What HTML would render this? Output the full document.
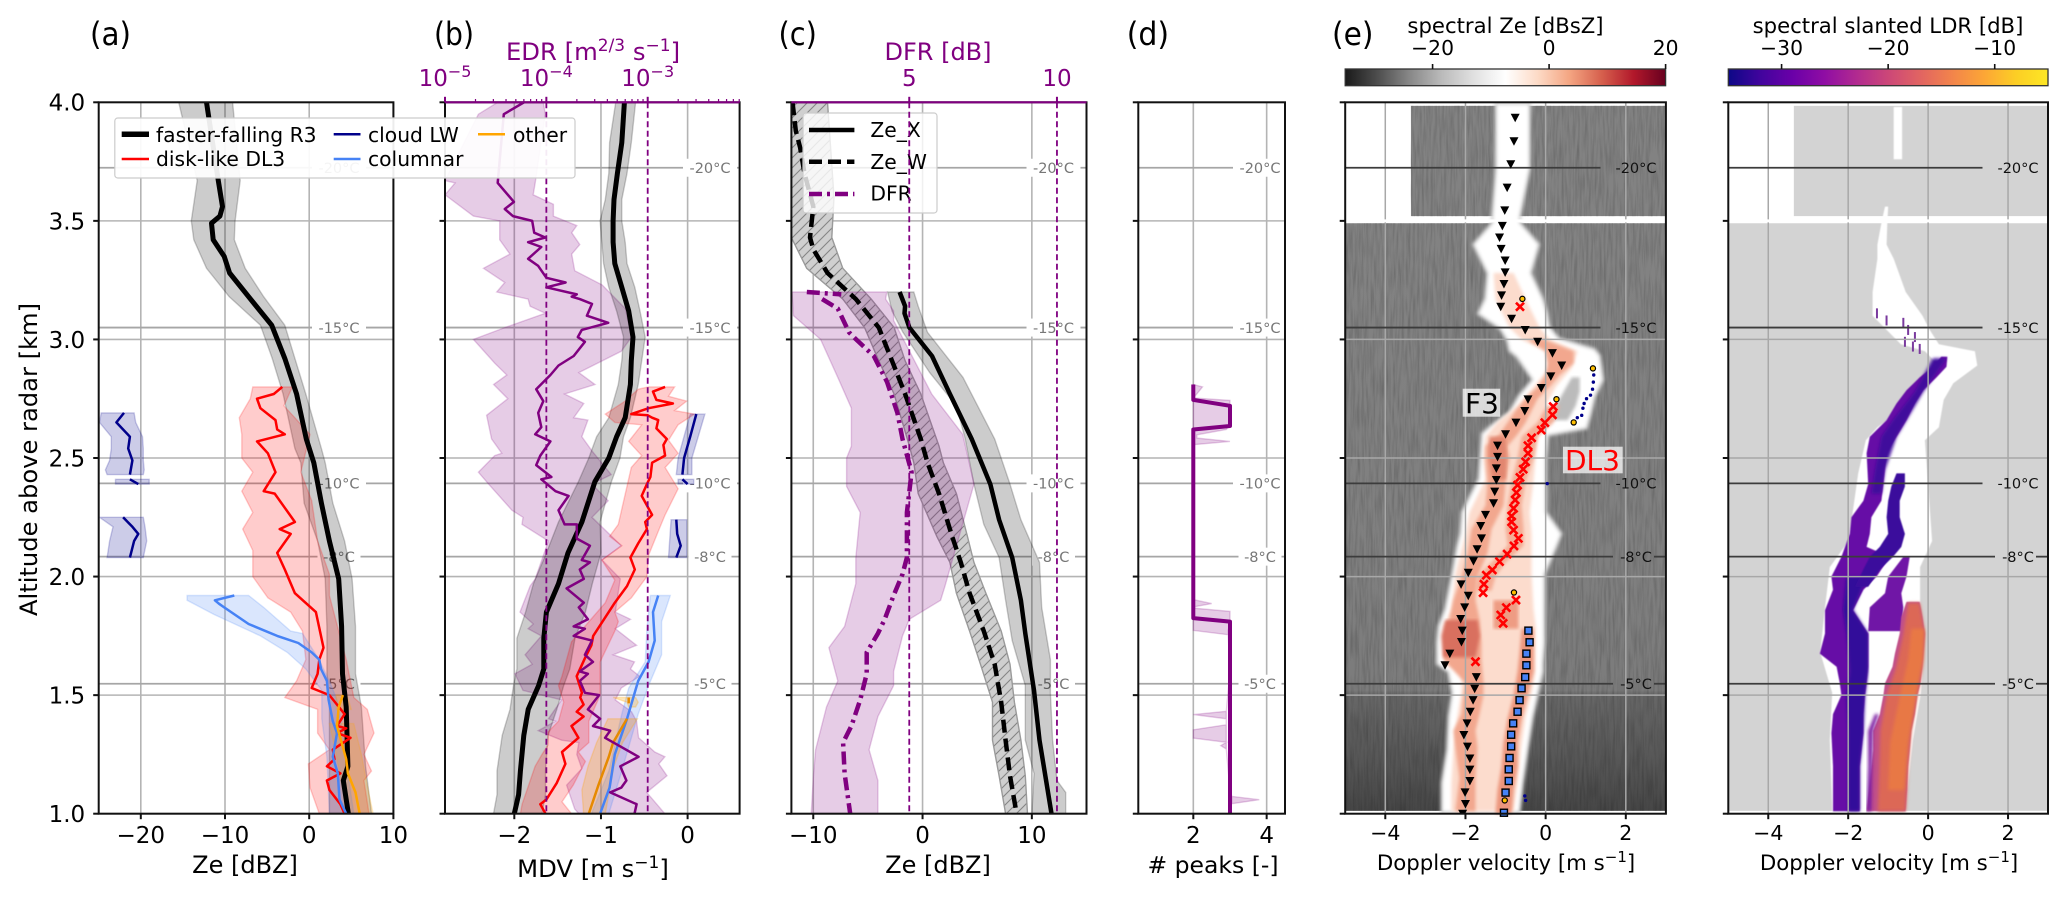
<!DOCTYPE html>
<html lang="en">
<head>
<meta charset="utf-8">
<title>Radar profiles and Doppler spectra</title>
<style>
html,body{margin:0;padding:0;background:#fff}
svg{display:block}
text{font-family:"DejaVu Sans","Liberation Sans",sans-serif}
</style>
</head>
<body>
<svg id="chart" xmlns="http://www.w3.org/2000/svg" width="2067" height="899" viewBox="0 0 2067 899">
<defs>
<clipPath id="clip-a"><rect x="98.7" y="102.3" width="294.7" height="711.4"/></clipPath>
<clipPath id="clip-b"><rect x="445" y="102.3" width="294.6" height="711.4"/></clipPath>
<clipPath id="clip-c"><rect x="791.4" y="102.3" width="295.1" height="711.4"/></clipPath>
<clipPath id="clip-d"><rect x="1138.3" y="102.3" width="146.7" height="711.4"/></clipPath>
<clipPath id="clip-e"><rect x="1345.2" y="102.3" width="320.7" height="711.4"/></clipPath>
<clipPath id="clip-f"><rect x="1728.3" y="102.3" width="319.7" height="711.4"/></clipPath>
<pattern id="hatch" width="10" height="10" patternUnits="userSpaceOnUse">
<rect width="10" height="10" fill="#cfcfcf"/>
<path d="M0,10 L10,0 M-2,2 L2,-2 M8,12 L12,8" stroke="#858585" stroke-width="1.1"/>
</pattern>
<linearGradient id="cmap-rdgy" x1="0" x2="1" y1="0" y2="0">
<stop offset="0" stop-color="#1a1a1a"/><stop offset=".1" stop-color="#4d4d4d"/><stop offset=".2" stop-color="#878787"/><stop offset=".3" stop-color="#bababa"/><stop offset=".4" stop-color="#e0e0e0"/><stop offset=".5" stop-color="#ffffff"/><stop offset=".6" stop-color="#fddbc7"/><stop offset=".7" stop-color="#f4a582"/><stop offset=".8" stop-color="#d6604d"/><stop offset=".9" stop-color="#b2182b"/><stop offset="1" stop-color="#67001f"/>
</linearGradient>
<linearGradient id="cmap-plasma" x1="0" x2="1" y1="0" y2="0">
<stop offset="0" stop-color="#0d0887"/><stop offset=".1" stop-color="#41049d"/><stop offset=".2" stop-color="#6a00a8"/><stop offset=".3" stop-color="#8f0da4"/><stop offset=".4" stop-color="#b12a90"/><stop offset=".5" stop-color="#cc4778"/><stop offset=".6" stop-color="#e16462"/><stop offset=".7" stop-color="#f2844b"/><stop offset=".8" stop-color="#fca636"/><stop offset=".9" stop-color="#fcce25"/><stop offset="1" stop-color="#fde725"/>
</linearGradient>
<filter id="grain" x="0" y="0" width="1" height="1">
<feTurbulence type="fractalNoise" baseFrequency="0.45 0.035" numOctaves="2" seed="4"/>
<feColorMatrix type="matrix" values="0 0 0 0 0  0 0 0 0 0  0 0 0 0 0  1.6 0 0 0 -0.6"/>
</filter>
<filter id="soft" x="-5%" y="-5%" width="110%" height="110%"><feGaussianBlur stdDeviation="1.6"/></filter>
<filter id="softer" x="-5%" y="-5%" width="110%" height="110%"><feGaussianBlur stdDeviation="0.5"/></filter>
</defs>
<rect x="0" y="0" width="2067" height="899" fill="#fff"/>

<g id="panel-a-marks"></g>
<g id="panel-b-marks"></g>
<g id="panel-c-marks"></g>

<g>
<rect x="803" y="113" width="134" height="100" rx="3" fill="#fff" fill-opacity=".8" stroke="#ccc" stroke-width="1.2"/>
<line x1="809" x2="854.4" y1="130" y2="130" stroke="#000" stroke-width="4.5"/>
<text x="870.4" y="137" font-size="20.3" fill="#000">Ze_X</text>
<line x1="809" x2="854.4" y1="161.7" y2="161.7" stroke="#000" stroke-width="4.5" stroke-dasharray="13 6"/>
<text x="870.4" y="169" font-size="20.3" fill="#000">Ze_W</text>
<line x1="809" x2="854.4" y1="194" y2="194" stroke="#800080" stroke-width="4.5" stroke-dasharray="13 5 3 5"/>
<text x="870.4" y="200.7" font-size="20.3" fill="#000">DFR</text>
</g>
<g id="panel-c-top"></g>
<g id="panel-d-marks"></g>
<g id="panel-e-marks"></g>
<g id="panel-f-marks"></g>

<g>
<rect x="114.8" y="118" width="460.2" height="60" rx="3" fill="#fff" fill-opacity=".92" stroke="#ccc" stroke-width="1.2"/>
<line x1="121.7" x2="149" y1="134.3" y2="134.3" stroke="#000" stroke-width="5.5"/>
<text x="156" y="142" font-size="20.3" fill="#000">faster-falling R3</text>
<line x1="121.7" x2="149" y1="159" y2="159" stroke="#ff0000" stroke-width="2.5"/>
<text x="156" y="166" font-size="20.3" fill="#000">disk-like DL3</text>
<line x1="333.7" x2="360.5" y1="134.3" y2="134.3" stroke="#00008b" stroke-width="2.5"/>
<text x="368" y="142" font-size="20.3" fill="#000">cloud LW</text>
<line x1="333.7" x2="360.5" y1="159" y2="159" stroke="#4682f5" stroke-width="2.5"/>
<text x="368" y="166" font-size="20.3" fill="#000">columnar</text>
<line x1="478" x2="505" y1="134.3" y2="134.3" stroke="#ffa500" stroke-width="2.5"/>
<text x="513" y="142" font-size="20.3" fill="#000">other</text>
</g>

<text x="90" y="45" font-size="32" textLength="41" lengthAdjust="spacingAndGlyphs" fill="#000">(a)</text>
<text x="434" y="45" font-size="32" textLength="40" lengthAdjust="spacingAndGlyphs" fill="#000">(b)</text>
<text x="778.5" y="45" font-size="32" textLength="38.4" lengthAdjust="spacingAndGlyphs" fill="#000">(c)</text>
<text x="1126.7" y="45" font-size="32" textLength="42.4" lengthAdjust="spacingAndGlyphs" fill="#000">(d)</text>
<text x="1332" y="45" font-size="32" textLength="41.4" lengthAdjust="spacingAndGlyphs" fill="#000">(e)</text>

<text transform="translate(37,459.5) rotate(-90)" text-anchor="middle" font-size="24.2" fill="#000">Altitude above radar [km]</text>
<text x="245" y="873" text-anchor="middle" font-size="24" fill="#000">Ze [dBZ]</text>
<text x="593" y="877" text-anchor="middle" font-size="24.3" fill="#000">MDV [m s<tspan dy="-9" font-size="17">−1</tspan><tspan dy="9">]</tspan></text>
<text x="938" y="873" text-anchor="middle" font-size="24" fill="#000">Ze [dBZ]</text>
<text x="1213" y="873" text-anchor="middle" font-size="23.5" fill="#000"># peaks [-]</text>
<text x="1506" y="870" text-anchor="middle" font-size="21.3" fill="#000">Doppler velocity [m s<tspan dy="-8" font-size="15">−1</tspan><tspan dy="8">]</tspan></text>
<text x="1889" y="870" text-anchor="middle" font-size="21.3" fill="#000">Doppler velocity [m s<tspan dy="-8" font-size="15">−1</tspan><tspan dy="8">]</tspan></text>
<text x="593" y="60" text-anchor="middle" font-size="24.3" fill="#800080">EDR [m<tspan dy="-9" font-size="17">2/3</tspan><tspan dy="9"> s</tspan><tspan dy="-9" font-size="17">−1</tspan><tspan dy="9">]</tspan></text>
<text x="938" y="60" text-anchor="middle" font-size="24" fill="#800080">DFR [dB]</text>

<g id="colorbar-e">
<rect x="1345.2" y="69" width="320.4" height="16.7" fill="url(#cmap-rdgy)" stroke="#333" stroke-width="1.3"/>
<text x="1505.5" y="33" text-anchor="middle" font-size="21.2" fill="#000">spectral Ze [dBsZ]</text>
</g>
<g id="colorbar-f">
<rect x="1728.3" y="69" width="319.7" height="16.7" fill="url(#cmap-plasma)" stroke="#333" stroke-width="1.3"/>
<text x="1888" y="33" text-anchor="middle" font-size="21.2" fill="#000">spectral slanted LDR [dB]</text>
</g>

<g>
<rect x="1462.7" y="388.7" width="37.5" height="28" fill="#fff" fill-opacity=".72"/>
<text x="1465" y="413" font-size="28" fill="#000">F3</text>
</g>
<g>
<rect x="1563" y="446.7" width="59.7" height="26.6" fill="#fff" fill-opacity=".72"/>
<text x="1565" y="470" font-size="28" fill="#ff0000">DL3</text>
</g>

<script>
/* ---------- shared axis data ---------- */
const altTicks = [1, 1.5, 2, 2.5, 3, 3.5, 4];
const altTickLabels = ['1.0', '1.5', '2.0', '2.5', '3.0', '3.5', '4.0'];
const isoLabels = ['-20°C', '-15°C', '-10°C', '-8°C', '-5°C'];
const isoAlt = [3.724, 3.05, 2.393, 2.084, 1.548];
const aTicks = [-20, -10, 0, 10];
const bTicks = [-2, -1, 0];
const cTicks = [-10, 0, 10];
const dTicks = [2, 4];
const specTicks = [-4, -2, 0, 2];
const edrMajor = [-5, -4, -3];
const edrLabels = ['−5', '−4', '−3'];
const edrLines = [-4, -3];
const dfrTicks = [5, 10];
const cbZeTicks = [-20, 0, 20];
const cbLdrTicks = [-30, -20, -10];

/* ---------- panel (a) reflectivity ---------- */
const aBlackH = [4.0,3.67,3.56,3.52,3.49,3.42,3.35,3.28,3.18,3.06,2.92,2.77,2.58,2.48,2.31,2.15,1.99,1.79,1.59,1.45,1.2,1.14,1.0];
const aBlackZe = [-12.2,-10.8,-10.3,-10.6,-11.6,-11.4,-10.1,-9.45,-7.2,-4.45,-2.9,-1.5,-.35,.55,1.45,2.4,3.5,3.85,3.95,4.4,4.6,4.05,4.65];
const aBlackBandH = [4,3.67,3.5,3.42,3.3,3.18,3.06,2.92,2.77,2.54,2.48,2.31,2.15,1.99,1.79,1.59,1.45,1.2,1];
const aBlackLo = [-15.5,-13.3,-14,-13.7,-12.2,-9.5,-5.8,-4.4,-3.1,-1.7,-1,-.6,1,1.9,2.1,2.1,2.4,2.4,2.4];
const aBlackHi = [-9.1,-8.2,-8.8,-8.9,-7.6,-5.4,-2.9,-1.7,-.4,1.45,1.9,2.8,4.2,5.1,5.5,5.5,6.2,6.7,7.4];
const aRedH = [2.8,2.77,2.75,2.71,2.66,2.62,2.6,2.57,2.52,2.44,2.36,2.35,2.29,2.23,2.2,2.18,2.1,2.03,1.93,1.85,1.7,1.65,1.59,1.53,1.5,1.42,1.37,1.36,1.34,1.32,1.27,1.23,1.2,1.17,1.14,1.1,1.04,1.0];
const aRedZe = [-3.2,-4.2,-6.2,-5.8,-4,-3.8,-2.9,-6.2,-4.9,-4,-5.4,-4.1,-2.9,-1.7,-3.5,-2.2,-3.8,-2.9,-1.7,.8,1.7,1.2,1,.3,2.4,4.2,3.3,4.4,3.3,4.9,2.8,3,2.1,3.7,2.1,2.4,3.7,4.2];
const aRedLoH = [2.8,2.75,2.67,2.6,2.5,2.44,2.36,2.27,2.2,2.11,2.0,1.91,1.85,1.77,1.65,1.56,1.49,1.44,1.34,1.27,1.21,1.11,1.0];
const aRedLo = [-6.7,-7,-8.3,-8,-8,-6.7,-8,-6.7,-7.9,-6.7,-6.7,-4.9,-2.2,-.8,-.4,-1.5,-2.9,1,1,2.4,-.1,.1,1.2];
const aRedHiH = [2.8,2.72,2.6,2.44,2.32,2.15,2.01,1.92,1.77,1.65,1.49,1.44,1.34,1.25,1.18,1.14,1.0];
const aRedHi = [-2,-3,.1,-1,.3,1,2.4,2.4,3.5,4.4,5.3,6.9,7.7,6.5,7.4,6.5,7.1];
const aNavyH = [2.69,2.65,2.59,2.54,2.49,2.43,null,2.41,2.39,null,2.25,2.21,2.18,2.15,2.08];
const aNavyZe = [-22,-22.9,-21.3,-21.5,-21,-21.3,null,-21.3,-20.3,null,-22.1,-21,-20.3,-20.8,-21.3];
const aNavyBandH = [2.69,2.65,2.59,2.54,2.49,2.45,2.43,null,2.41,2.39,null,2.25,2.21,2.18,2.15,2.08];
const aNavyLo = [-24.7,-24.9,-23.5,-23.5,-23.7,-24.2,-24,null,-23,-23,null,-24.9,-23.3,-23.5,-23.7,-24];
const aNavyHi = [-20.8,-20.6,-19.8,-19.7,-19.7,-19.6,-19.7,null,-19,-19,null,-19.7,-19.5,-19.4,-19.3,-19.7];
const aBlueH = [1.92,1.90,1.885,1.87,1.8,1.75,1.72,1.68,1.65,1.61,1.56,1.48,1.39,1.34,1.24,1.17,1.06,1.0];
const aBlueZe = [-8.9,-11.2,-10.7,-10.1,-7.2,-3.8,-1.3,.3,1.2,1.4,2.1,2.3,2.8,3.3,2.8,3.4,3.6,4.4];
const aBlueLoH = [1.92,1.9,1.84,1.75,1.68,1.61,1.52,1.4,1.24,1.0];
const aBlueLo = [-14.5,-14.5,-11.3,-5.8,-2.6,-.4,1.5,1.5,2.1,2.4];
const aBlueHiH = [1.92,1.87,1.77,1.76,1.66,1.56,1.48,1.3,1.17,1.0];
const aBlueHi = [-7.2,-5.4,-2.2,-.8,1,2.4,3.3,4.2,4.6,5.3];
const aOrangeH = [1.5,1.45,1.37,1.28,1.23,1.17,1.09,1.0];
const aOrangeZe = [4,3.5,3.3,4,4.4,4.6,5.5,6];
const aOrangeBandH = [1.5,1.44,null,1.38,1.25,1.1,1.0];
const aOrangeLo = [3.2,3.2,null,2.4,3.2,4,4.3];
const aOrangeHi = [4.5,5,null,5.3,6.2,7,7.6];

/* ---------- panel (b) mean Doppler velocity and EDR ---------- */
const bBlackH = [4,3.83,3.7,3.59,3.5,3.41,3.32,3.22,3.12,3.01,2.91,2.81,2.67,2.59,2.5,2.4,2.23,2.1,1.97,1.85,1.74,1.61,1.54,1.44,1.33,1.18,1.08,1];
const bBlackV = [-.73,-.76,-.81,-.85,-.86,-.86,-.84,-.76,-.68,-.63,-.65,-.66,-.72,-.82,-.91,-1.07,-1.22,-1.38,-1.49,-1.63,-1.66,-1.66,-1.72,-1.84,-1.89,-1.93,-1.95,-2];
const bBlackLo = [-.83,-.9,-.91,-.95,-1.01,-.99,-.97,-.91,-.82,-.74,-.76,-.8,-.91,-1.05,-1.14,-1.26,-1.49,-1.63,-1.78,-1.87,-1.97,-1.97,-2.01,-2.05,-2.14,-2.2,-2.2,-2.24];
const bBlackHi = [-.6,-.65,-.7,-.76,-.76,-.72,-.7,-.61,-.55,-.49,-.53,-.57,-.66,-.74,-.78,-.88,-1.01,-1,-1.1,-1.18,-1.3,-1.36,-1.43,-1.51,-1.61,-1.64,-1.64,-1.68];
const bEdrH = [4,3.95,3.66,3.58,3.55,3.52,3.5,3.45,3.43,3.41,3.39,3.34,3.31,3.26,3.24,3.22,3.19,3.18,3.17,3.15,3.1,3.07,3.04,3.01,2.99,2.93,2.89,2.85,2.79,2.74,2.69,2.63,2.6,2.57,2.51,2.47,2.42,2.41,2.36,2.34,2.28,2.22,2.22,2.16,2.13,2.07,2.06,2.03,1.99,1.95,1.89,1.87,1.82,1.79,1.78,1.75,1.73,1.67,1.64,1.6,1.59,1.56,1.51,1.5,1.44,1.4,1.37,1.35,1.32,1.24,1.2,1.14,1.11,1.09,1.04,1];
const bEdrLog = [-4.22,-4.42,-4.48,-4.32,-4.41,-4.33,-4.14,-4.12,-4.01,-4.18,-4.05,-4.18,-4.08,-4,-3.81,-4,-3.7,-3.75,-3.67,-3.55,-3.6,-3.39,-3.65,-3.69,-3.62,-3.73,-3.88,-3.96,-4.1,-4.03,-4.08,-4.05,-4.11,-3.96,-4.06,-4.1,-3.95,-4.05,-3.91,-3.78,-3.88,-3.82,-3.7,-3.7,-3.57,-3.65,-3.57,-3.67,-3.63,-3.8,-3.63,-3.68,-3.59,-3.73,-3.62,-3.73,-3.55,-3.62,-3.54,-3.67,-3.59,-3.67,-3.62,-3.48,-3.59,-3.47,-3.54,-3.37,-3.42,-3.09,-3.27,-3.21,-3.26,-3.37,-3.11,-3.13];
const bEdrLoH = [4,3.95,3.67,3.66,3.61,3.52,3.5,3.42,3.36,3.3,3.24,3.2,3.17,3.14,3.11,3.05,3,2.9,2.85,2.81,2.75,2.68,2.58,2.52,2.51,2.44,2.39,2.28,2.25,2.22,2.15,1.99,1.96,1.85,1.8,1.78,1.75,1.67,1.63,1.59,1.52,1.48,1.4,1.39,1.35,1.31,1.3,1.25,1.19,1.12,1.02,1];
const bEdrLo = [-4.48,-4.67,-5,-4.9,-5,-4.72,-4.46,-4.46,-4.36,-4.62,-4.41,-4.49,-4.18,-4.16,-4.01,-4.41,-4.72,-4.51,-4.39,-4.52,-4.38,-4.59,-4.54,-4.44,-4.51,-4.67,-4.57,-4.34,-4.23,-4.24,-3.98,-4.11,-4.16,-4.26,-4.13,-4.18,-4.05,-4.21,-4.14,-4.31,-4.23,-3.85,-3.98,-3.91,-4.08,-3.85,-3.68,-3.7,-3.65,-3.8,-3.72,-3.68];
const bEdrHiH = [4,3.95,3.66,3.61,3.57,3.52,3.48,3.45,3.4,3.36,3.29,3.23,3.13,3.01,2.95,2.86,2.81,2.77,2.73,2.67,2.66,2.59,2.53,2.43,2.39,2.32,2.25,2.13,2.07,1.99,1.85,1.82,1.78,1.71,1.67,1.64,1.61,1.58,1.53,1.48,1.43,1.39,1.32,1.26,1.24,1.21,1.16,1.09,1];
const bEdrHi = [-4.03,-4.01,-4.11,-4.13,-3.93,-3.93,-3.7,-3.75,-3.67,-3.75,-3.72,-3.45,-3.22,-3.16,-3.26,-3.68,-3.52,-3.82,-3.63,-3.73,-3.59,-3.65,-3.55,-3.36,-3.55,-3.39,-3.55,-3.26,-3.45,-3.27,-3.32,-3.17,-3.32,-3.11,-3.34,-3.13,-3.17,-3.08,-3.26,-3.32,-3.16,-3.11,-3.09,-2.93,-2.83,-2.89,-2.81,-3.01,-2.83];
const bRedH = [2.8,2.78,2.745,2.73,2.71,2.685,2.68,2.67,2.66,2.625,2.58,2.555,2.51,2.48,2.42,2.39,2.34,2.3,2.26,2.23,2.2,2.14,2.08,2.03,1.96,1.89,1.75,1.71,1.66,1.58,1.51,1.49,1.46,1.43,1.41,1.37,1.32,1.26,1.21,1.13,1.06,1.04,1];
const bRedV = [-.26,-.4,-.36,-.17,-.45,-.65,-.46,-.41,-.34,-.36,-.24,-.28,-.26,-.41,-.43,-.47,-.53,-.47,-.41,-.49,-.47,-.57,-.66,-.61,-.7,-.84,-1.09,-1.11,-1.18,-1.28,-1.22,-1.24,-1.2,-1.28,-1.2,-1.34,-1.26,-1.45,-1.41,-1.51,-1.63,-1.7,-1.64];
const bRedLoH = [2.8,2.79,2.74,2.685,2.65,2.64,2.57,2.51,2.46,2.22,2.17,2.13,2.07,1.985,1.89,1.725,1.58,1.54,1.47,1.39,1.345,1.29,1.25,1.2,1.04,1];
const bRedLo = [-.45,-.57,-.72,-.95,-.84,-.53,-.68,-.53,-.65,-.8,-.9,-.76,-.99,-.84,-.95,-1.34,-1.45,-1.49,-1.43,-1.49,-1.61,-1.61,-1.68,-1.76,-1.91,-1.93];
const bRedHiH = [2.8,2.76,2.74,2.7,2.685,2.64,2.575,2.52,2.46,2.37,2.26,2.19,2.09,2,1.91,1.85,1.81,1.77,1.64,1.5,1.39,1.3,1.26,1.22,1.12,1.05,1];
const bRedHi = [-.15,-.22,-.01,-.15,.08,-.11,-.22,-.11,-.26,-.11,-.26,-.34,-.45,-.47,-.65,-.84,-.8,-.84,-1.01,-1.01,-1.14,-1.14,-1.26,-1.18,-1.32,-1.45,-1.34];
const bBlueH = [1.92,1.85,1.73,1.64,1.56,1.4,1.25,1.11,1];
const bBlueV = [-.34,-.4,-.38,-.45,-.57,-.7,-.84,-.9,-1.01];
const bBlueLoH = [1.92,1.78,1.64,1.53,1.42,1.18,1];
const bBlueLo = [-.43,-.47,-.49,-.68,-.76,-.91,-1.11];
const bBlueHiH = [1.92,1.81,1.67,1.54,1.42,1.18,1];
const bBlueHi = [-.2,-.3,-.3,-.45,-.57,-.76,-.91];
const bOrangeH = [1.49,1.465,null,1.4,1.3,1.24,1.12,1];
const bOrangeV = [-.68,-.68,null,-.7,-.86,-.91,-1.03,-1.14];
const bOrangeBandH = [1.49,1.47,1.45,null,1.4,1.3,1.2,1.1,1];
const bOrangeLo = [-.86,-.7,-.68,null,-.92,-1.05,-1.15,-1.22,-1.2];
const bOrangeHi = [-.6,-.57,-.6,null,-.58,-.75,-.85,-.9,-.95];
const bNavyH = [2.685,2.59,2.5,2.43,null,2.41,2.39,null,2.24,2.18,2.13,2.08];
const bNavyV = [.1,.03,-.04,-.06,null,-.06,0,null,-.13,-.12,-.08,-.13];
const bNavyBandH = [2.685,2.5,2.43,null,2.41,2.39,null,2.24,2.08];
const bNavyLo = [.03,-.11,-.13,null,-.11,-.11,null,-.19,-.22];
const bNavyHi = [.2,.05,.05,null,.07,.07,null,-.01,-.01];

/* ---------- panel (c) dual wavelength ---------- */
const cXH = [3.2,3.14,3.11,3.05,2.93,2.77,2.58,2.39,2.24,2.08,1.9,1.76,1.52,1.31,1.14,1];
const cXZe = [-2.1,-1.6,-1.65,-1.2,.86,2.5,4.5,6.2,7,8.2,9,9.4,10.2,10.7,11.3,11.8];
const cXLoH = [3.2,3.12,3.03,2.86,2.72,2.58,2.39,2.22,2.08,1.9,1.73,1.54,1.31,1.17,1];
const cXLo = [-3.2,-2.8,-1.8,.65,3.1,3.9,4.7,5.6,7,7.6,8.2,9.4,9.4,10.2,10];
const cXHiH = [3.2,3.14,3.03,2.84,2.58,2.39,2.24,2.06,1.87,1.65,1.51,1.31,1.14,1.09,1];
const cXHi = [-.8,-.4,.45,3.7,6.6,8,9,10.7,10.9,11.7,11.7,11.9,12.3,13.1,13.1];
const cWH = [4,3.88,3.81,3.7,3.56,3.43,3.38,3.28,3.17,3.05,2.91,2.77,2.58,2.48,2.35,2.17,2.06,1.93,1.77,1.63,1.47,1.31,1.16,1];
const cWZe = [-11.9,-11.6,-11.2,-10.8,-10,-10.3,-10,-8.7,-6.1,-4,-2.8,-1.6,-.16,.45,1.5,2.7,3.5,4.3,5.6,6.6,7.2,7.6,8,8.6];
const cWBandH = [4,3.6,3.43,3.3,3.17,3.05,2.91,2.77,2.55,2.48,2.35,2.17,2.06,1.93,1.77,1.63,1.47,1.31,1.16,1];
const cWLo = [-12,-12,-12,-10.6,-7.3,-5.3,-4,-2.6,-1.2,-.8,-.4,1.3,2.5,3.1,4.3,5.3,6.4,6.4,7,7.6];
const cWHi = [-8.7,-8.1,-8.3,-7.3,-4.7,-2.6,-1.6,-.16,1.5,1.9,3.1,4.1,4.7,5.8,7.2,8,8.4,9,9.4,9.6];
const cDfrH = [3.2,3.19,null,3.17,3.13,3.03,3,2.93,2.82,2.69,2.58,2.44,2.27,2.08,2.01,1.92,1.82,1.76,1.68,1.59,1.48,1.37,1.3,1.17,1];
const cDfrDb = [1.53,2.7,null,2.05,2.58,2.96,3.2,3.8,4.25,4.6,4.77,5.08,4.92,4.92,4.77,4.47,4.17,3.94,3.56,3.56,3.34,3.04,2.76,2.81,3];
const cDfrLoH = [3.2,3.1,3,2.84,2.71,2.55,2.5,2.38,2.27,2.08,1.97,1.79,1.7,1.56,1.45,1.27,1.17,1];
const cDfrLo = [1.03,1.08,2,2.58,3.04,3.04,2.88,2.88,3.34,3.19,3.19,2.81,2.28,2.58,2.2,1.83,1.76,1.68];
const cDfrHiH = [3.2,3.17,3.12,3.08,2.77,2.6,2.39,1.96,1.9,1.82,1.75,1.6,1.54,1.41,1.27,1.14,1];
const cDfrHi = [4.24,4.2,4.47,4.47,5.76,6.81,7.19,6.21,6.06,5,4.77,4.47,4.47,3.94,3.64,3.94,3.94];

/* ---------- panel (d) number of peaks ---------- */
const dPeakH = [2.81,2.745,2.72,2.635,2.62,1.825,1.81,1];
const dPeakN = [2,2,3,3,2,2,3,3];
const dBandH = [2.81,2.80,2.771,2.753,2.743,2.64,2.62,2.598,2.584,2.57,2.556,2.5,1.903,1.886,1.872,1.867,1.853,1.818,1.807,1.773,1.755,1.6,1.432,1.418,1.4,1.375,1.354,1.319,1.301,1.287,1.273,1.1,1.073,1.059,1.042];
const dBandLo = [2,2,2,2,2,2,2,2,2,2,2,2,2,2,2,2,2,2,2,2,2.95,3,2.9,2,2.9,2.9,2,2,2.9,2.75,2.9,3,3.05,3.05,3.05];
const dBandHi = [2,2.25,2.1,2,3,3,2.9,2.1,2.1,3,2,2,2,2.5,2,2,3,3,3,2.95,2.95,3,2.9,2.9,2.9,2.9,2.9,2.9,2.9,2.9,2.9,3,3.05,3.8,3.05];

/* ---------- panel (e) spectral reflectivity ---------- */
const bgAlt = [3.5,2.0,1.52,1.5,1.2,1.0];
const bgGray = ['#828282','#7f7f7f','#7b7b7b','#676767','#555555','#454545'];
const specH = [3.99,3.72,3.52,3.49,3.4,3.28,3.17,3.11,3.05,3.0,2.955,2.93,2.83,2.76,2.69,2.63,2.6,2.5,2.41,2.27,2.18,2.125,2.01,1.86,1.79,1.72,1.635,1.6,1.51,1.41,1.27,1.13,1.01];
const specL = [-1.21,-1.21,-1.3,-1.3,-1.77,-1.42,-1.48,-1.65,-1.12,-.94,-.88,-.7,-.29,-.64,-.88,-1.36,-1.56,-1.6,-1.64,-2.06,-2.1,-2.18,-2.3,-2.48,-2.64,-2.68,-2.68,-2.4,-2.3,-2.39,-2.43,-2.56,-2.56];
const specR = [-.43,-.43,-.67,-.67,-.2,-.4,-.1,.01,.07,.31,1.2,1.32,1.4,1.2,1.1,1.0,.03,-.02,-.02,-.02,.36,.23,-.06,-.06,-.06,-.06,-.1,-.1,-.22,-.35,-.48,-.6,-.68];
const holeH = [2.84,2.78,2.72,2.66];
const holeL = [.65,.45,.25,.1];
const holeR = [.85,.85,.75,.55];
const pinkH = [3.28,3.17,3.05,3.0,2.95,2.88,2.8,2.72,2.65,2.59,2.5,2.41,2.27,2.18,2.01,1.86,1.79,1.72,1.635,1.6,1.51,1.41,1.27,1.13,1.01];
const pinkL = [-1.3,-1.25,-.9,-.6,0,.1,-.3,-.7,-1.2,-1.5,-1.55,-1.5,-1.9,-2,-2.25,-2.35,-2.55,-2.55,-2.5,-2.1,-2.1,-2.2,-2.3,-2.35,-2.35];
const pinkR = [-.8,-.5,-.15,.1,.8,.65,.25,0,-.05,-.2,-.25,-.3,-.4,-.35,-.35,-.3,-.25,-.25,-.25,-.25,-.35,-.5,-.62,-.7,-.8];
const f3H = [3.0,2.95,2.9,2.85,2.8,2.75,2.7,2.65,2.6,2.55,2.5,2.4,2.3,2.2,2.1,2.0,1.9,1.82,1.72,1.65,1.55,1.5,1.42,1.35,1.28,1.15,1.01];
const f3L = [-.45,0,.05,0,-.2,-.5,-.75,-.95,-1.15,-1.5,-1.5,-1.45,-1.5,-1.85,-1.95,-2.1,-2.3,-2.4,-2.5,-2.55,-2,-2.05,-2.1,-2.3,-2.25,-2.15,-2.25];
const f3R = [-.05,.7,.7,.35,.1,-.2,-.35,-.5,-.7,-.95,-.9,-1,-1.05,-1.35,-1.45,-1.7,-1.75,-1.65,-1.6,-1.6,-1.55,-1.55,-1.65,-1.75,-1.7,-1.75,-1.75];
const dlH = [2.72,2.65,2.59,2.5,2.4,2.3,2.2,2.13,2.06,2.0,1.94];
const dlL = [.02,-.2,-.6,-.7,-.85,-.95,-1,-.95,-1.35,-1.7,-1.75];
const dlR = [.35,.2,-.2,-.3,-.5,-.6,-.55,-.55,-1,-1.25,-1.35];
const blobMidH = [1.9,1.78];
const blobMidL = [-1.3,-1.3];
const blobMidR = [-.68,-.68];
const blobLowH = [1.817,1.75,1.66];
const blobLowL = [-2.5,-2.6,-2.56];
const blobLowR = [-1.7,-1.64,-1.75];
const blobUpH = [2.59,2.5,2.41];
const blobUpL = [-1.4,-1.42,-1.32];
const blobUpR = [-1,-.97,-1];
const sqBandH = [1.78,1.68,1.6,1.5,1.4,1.3,1.2,1.1,1.0];
const sqBandL = [-.6,-.65,-.7,-.8,-.95,-1.05,-1.1,-1.2,-1.25];
const sqBandR = [-.3,-.3,-.3,-.45,-.6,-.7,-.7,-.8,-.85];
const triH = [3.935,3.836,3.739,3.64,3.544,3.479,3.43,3.382,3.333,3.283,3.234,3.186,3.138,3.087,3.04,2.99,2.942,2.89,2.844,2.795,2.747,2.698,2.649,2.6,2.552,2.505,2.456,2.407,2.358,2.309,2.26,2.213,2.161,2.115,2.065,2.016,1.967,1.919,1.87,1.821,1.772,1.724,1.675,1.626,1.576,1.527,1.479,1.43,1.381,1.332,1.283,1.233,1.186,1.138,1.09,1.041,1.0];
const triV = [-.76,-.79,-.87,-.96,-1.02,-1.08,-1.15,-1.11,-1.01,-1.01,-1.04,-1.1,-1.12,-.85,-.51,-.2,.17,.4,.13,-.11,-.44,-.52,-.74,-1,-1.2,-1.2,-1.23,-1.23,-1.27,-1.3,-1.5,-1.62,-1.6,-1.71,-1.8,-1.93,-2.11,-1.93,-2.02,-2.12,-2.08,-2.1,-2.39,-2.51,-1.73,-1.77,-1.81,-1.88,-1.96,-2.04,-1.95,-1.89,-1.89,-1.89,-2.01,-2,-2.07];
const crossH = [3.138,2.717,2.682,2.649,2.618,2.585,2.552,2.52,2.484,2.453,2.418,2.386,2.354,2.323,2.288,2.255,2.231,2.196,2.161,2.129,2.095,2.063,2.028,2.006,1.968,1.932,1.901,1.869,1.838,1.803,1.641];
const crossV = [-.64,.19,.17,-.02,-.11,-.35,-.44,-.44,-.5,-.56,-.64,-.7,-.73,-.76,-.8,-.85,-.85,-.8,-.68,-.79,-.96,-1.15,-1.33,-1.48,-1.54,-1.56,-.74,-.98,-1.12,-1.06,-1.75];
const squareH = [1.772,1.723,1.675,1.626,1.576,1.529,1.479,1.43,1.381,1.333,1.284,1.235,1.187,1.138,1.089,1.004];
const squareV = [-.43,-.4,-.48,-.48,-.51,-.6,-.65,-.7,-.81,-.86,-.86,-.9,-.92,-.92,-1,-1.04];
const circleH = [3.171,2.878,2.748,2.65,1.933,1.056];
const circleV = [-.58,1.18,.27,.7,-.79,-1.02];
const dotH = [2.85,2.82,2.79,2.765,2.75,2.73,2.71,2.68,2.67,2.392,1.075,1.056];
const dotV = [1.2,1.19,1.17,1.12,1.02,.96,.93,.9,.79,.04,-.52,-.5];

/* ---------- panel (f) spectral LDR ---------- */
const fWhiteH = [3.98,3.76,null,3.56,3.5,3.4,3.34,3.2,3.1,3.04,2.98,2.95,2.89,2.815,2.745,2.63,2.575,2.435,2.15,2.04,1.87,1.68,1.51,1.31,1.03,1.01];
const fWhiteL = [-.86,-.86,null,-1.08,-1.16,-1.27,-1.27,-1.39,-1.39,-1.04,-.68,-.08,.27,-.2,-.32,-1.27,-1.56,-1.75,-1.99,-2.46,-2.58,-2.7,-2.4,-2.46,-2.4,-2.4];
const fWhiteR = [-.65,-.65,null,-1,-1.02,-1.04,-.86,-.56,-.14,.04,.27,1.17,1.23,.63,.39,.27,-.08,-.02,.1,-.2,-.2,-.11,-.18,-.38,-.56,-.56];
const streamAH = [2.927,2.885,2.84,2.786,2.73,2.66,2.59,2.52,2.39,2.32,2.25,2.18,2.125,2.083,2.0,1.944,1.858,1.76,1.675,1.62,1.55,1.5,1.42,1.34,1.2,1.01];
const streamAL = [.33,.12,-.21,-.54,-.79,-1.04,-1.46,-1.54,-1.5,-1.62,-1.92,-1.96,-2.08,-2.17,-2.42,-2.38,-2.58,-2.58,-2.71,-2.29,-2.21,-2.17,-2.38,-2.42,-2.38,-2.38];
const streamAR = [.48,.46,.21,-.12,-.33,-.54,-.79,-1.04,-1.12,-1.17,-1.42,-1.46,-1.54,-.96,-1.29,-1.62,-1.88,-1.5,-1.5,-1.5,-1.54,-1.58,-1.62,-1.62,-1.71,-1.71];
const coreUpH = [2.92,2.78,2.66,2.59,2.45,2.35];
const coreUpL = [.12,-.33,-.88,-1.17,-1.33,-1.42];
const coreUpR = [.46,-.12,-.54,-.79,-1.08,-1.17];
const coreLowH = [2,1.86,1.76,1.6,1.5,1.35,1.2,1.01];
const coreLowL = [-2.04,-2.13,-2.04,-1.96,-2.04,-2,-2,-2];
const coreLowR = [-1.54,-1.88,-1.5,-1.5,-1.58,-1.62,-1.71,-1.71];
const streamBH = [2.435,2.38,2.32,2.25,2.18,2.125,2.083,2.03,1.957];
const streamBL = [-.79,-.92,-1,-1.04,-1,-1.21,-1.46,-1.62,-1.83];
const streamBR = [-.58,-.58,-.71,-.71,-.58,-.67,-.88,-1.21,-1.5];
const streamCH = [2.083,2.0,1.93,1.87,1.77];
const streamCL = [-.62,-1,-1.08,-1.46,-1.5];
const streamCR = [-.46,-.54,-.67,-.62,-.67];
const orangeH = [1.893,1.83,1.76,1.675,1.62,1.55,1.5,1.42,1.35,1.27,1.2,1.1,1.01];
const orangeL = [-.54,-.67,-.71,-.83,-.89,-1.08,-1.12,-1.21,-1.38,-1.38,-1.42,-1.48,-1.54];
const orangeR = [-.21,-.14,-.08,-.11,-.14,-.19,-.27,-.33,-.42,-.46,-.5,-.52,-.56];
const orangeInnerH = [1.89,1.76,1.62,1.5,1.35,1.2,1.01];
const orangeInnerL = [-.5,-.62,-.8,-1.04,-1.2,-1.22,-1.26];
const orangeInnerR = [-.21,-.08,-.14,-.27,-.42,-.5,-.56];
const orangeCoreH = [1.78,1.65,1.5,1.3,1.1];
const orangeCoreL = [-.42,-.5,-.7,-.95,-1];
const orangeCoreR = [-.1,-.13,-.3,-.5,-.6];
const violetStripH = [1.42,1.35,1.2,1.01];
const violetStripL = [-1.33,-1.5,-1.5,-1.54];
const violetStripR = [-1.24,-1.38,-1.4,-1.42];
const speckH = [3.11,3.08,3.07,3.04,3.01,2.99,2.97,2.96];
const speckV = [-1.28,-1.04,-.62,-.5,-.33,-.58,-.38,-.21];

/* ---------- axis functions ---------- */
function linear(d0, d1, r0, r1) {
  return function (v) { return r0 + (v - d0) * (r1 - r0) / (d1 - d0); };
}
const yAlt = linear(1, 4, 813.7, 102.3);
const xA = linear(-25, 10, 98.7, 393.4);
const xB = linear(-2.8, 0.6, 445, 739.6);
const xEDR = linear(-5, -3, 445, 647.7);
const xC = linear(-12, 15, 791.4, 1086.5);
const xDFR = linear(1, 11, 791.1, 1086.5);
const xD = linear(0.5, 4.5, 1138.3, 1285);
const xE = linear(-5, 3, 1345.2, 1665.9);
const xF = linear(-5, 3, 1728.3, 2048);
const xCbZe = linear(-35, 20, 1345.2, 1665.6);
const xCbLdr = linear(-35, -5, 1728.3, 2048);

const NS = 'http://www.w3.org/2000/svg';
function make(tag, parent, attrs) {
  const node = document.createElementNS(NS, tag);
  for (const k in attrs) { node.setAttribute(k, attrs[k]); }
  parent.appendChild(node);
  return node;
}
function pieces(xs, hs) {
  const out = [];
  let cur = [];
  for (let i = 0; i < xs.length; i++) {
    if (xs[i] === null || hs[i] === null) {
      if (cur.length) { out.push(cur); }
      cur = [];
    } else {
      cur.push([xs[i], hs[i]]);
    }
  }
  if (cur.length) { out.push(cur); }
  return out;
}
function drawLine(parent, sx, xs, hs, color, width, dash, clip) {
  let d = '';
  pieces(xs, hs).forEach(function (seg) {
    seg.forEach(function (p, i) {
      d += (i ? 'L' : 'M') + sx(p[0]).toFixed(1) + ',' + yAlt(p[1]).toFixed(1);
    });
  });
  const attrs = { d: d, fill: 'none', stroke: color, 'stroke-width': width, 'stroke-linejoin': 'round', 'clip-path': 'url(#' + clip + ')' };
  if (dash) { attrs['stroke-dasharray'] = dash; }
  return make('path', parent, attrs);
}
function drawBand(parent, sx, loX, loH, hiX, hiH, fill, opacity, clip, stroke) {
  const lows = pieces(loX, loH);
  const highs = pieces(hiX, hiH);
  let d = '';
  lows.forEach(function (seg, k) {
    const a = seg.map(function (p) { return sx(p[0]).toFixed(1) + ',' + yAlt(p[1]).toFixed(1); });
    const b = highs[k].slice().reverse().map(function (p) { return sx(p[0]).toFixed(1) + ',' + yAlt(p[1]).toFixed(1); });
    d += 'M' + a.join('L') + 'L' + b.join('L') + 'Z';
  });
  const attrs = { d: d, fill: fill, 'fill-opacity': opacity, stroke: stroke || fill, 'stroke-opacity': opacity, 'stroke-width': 1.4, 'clip-path': 'url(#' + clip + ')' };
  return make('path', parent, attrs);
}
function drawRibbon(parent, sx, hs, ls, rs, fill, clip, filter) {
  const p = drawBand(parent, sx, ls, hs, rs, hs, fill, 1, clip, 'none');
  if (filter) {
    const wrap = make('g', parent, { filter: 'url(#' + filter + ')' });
    
    
    wrap.appendChild(p);
  }
  return p;
}
function drawGrid(parent, sx, xs, x0, x1, color) {
  xs.forEach(function (v) {
    const g = make('line', parent, { x1: sx(v), x2: sx(v), y1: 102.3, y2: 813.7, stroke: color, 'stroke-width': 1.6 });
    
    
  });
  altTicks.forEach(function (h) {
    const g = make('line', parent, { x1: x0, x2: x1, y1: yAlt(h), y2: yAlt(h), stroke: color, 'stroke-width': 1.6 });
    
    
  });
}
function drawIso(parent, x0, x1, textX) {
  isoAlt.forEach(function (h, i) {
    const y = yAlt(h);
    const l = make('line', parent, { x1: x0, x2: x1, y1: y, y2: y, stroke: '#a6a6a6', 'stroke-width': 1.8 });
    
    
    const half = isoLabels[i].length > 4 ? 27 : 21.5;
    const box = make('rect', parent, { x: textX - half, y: y - 9, width: half * 2, height: 18, fill: '#fff' });
    
    
    const t = make('text', parent, { x: textX, y: y + 5.3, 'text-anchor': 'middle', 'font-size': 14.5, fill: '#777' });
    t.textContent = isoLabels[i];
    
    
  });
}
function drawIsoSpec(parent, x0, x1, textX) {
  isoAlt.forEach(function (h, i) {
    const y = yAlt(h);
    const wide = isoLabels[i].length > 4;
    const end = textX - (wide ? 35.5 : 23);
    const l = make('line', parent, { x1: x0, x2: end, y1: y, y2: y, stroke: '#3c3c3c', 'stroke-width': 1.8 });
    
    
    if (!wide) {
      const s = make('line', parent, { x1: textX + 18, x2: x1, y1: y, y2: y, stroke: '#3c3c3c', 'stroke-width': 1.8 });
      
      
    }
    const t = make('text', parent, { x: textX, y: y + 5.3, 'text-anchor': 'middle', 'font-size': 14.5, fill: '#111' });
    t.textContent = isoLabels[i];
    
    
  });
}
function drawFrame(parent, x0, x1, topColor) {
  const box = make('rect', parent, { x: x0, y: 102.3, width: x1 - x0, height: 711.4, fill: 'none', stroke: '#111', 'stroke-width': 2 });
  
  
  if (topColor) {
    const top = make('line', parent, { x1: x0, x2: x1, y1: 102.3, y2: 102.3, stroke: topColor, 'stroke-width': 2.2 });
    
    
  }
}
function drawAltTicks(parent, x0, labelled) {
  altTicks.forEach(function (h, i) {
    const tk = make('line', parent, { x1: x0 - 5.5, x2: x0, y1: yAlt(h), y2: yAlt(h), stroke: '#111', 'stroke-width': 2 });
    
    
    if (labelled) {
      const t = make('text', parent, { x: x0 - 13.5, y: yAlt(h) + 8.4, 'text-anchor': 'end', 'font-size': 23, fill: '#000' });
      t.textContent = altTickLabels[i];
      
      
    }
  });
}
function drawXTicks(parent, sx, xs, size, base) {
  xs.forEach(function (v) {
    const tk = make('line', parent, { x1: sx(v), x2: sx(v), y1: 813.7, y2: 819.2, stroke: '#111', 'stroke-width': 2 });
    
    
    const t = make('text', parent, { x: sx(v), y: base, 'text-anchor': 'middle', 'font-size': size, fill: '#000' });
    t.textContent = String(v).replace('-', '\u2212');
    
    
  });
}

/* ---------- panel (a) ---------- */
const ga = document.getElementById('panel-a-marks');
drawGrid(ga, xA, aTicks, 98.7, 393.4, '#b4b4b4');
drawIso(ga, 98.7, 393.4, 339);
let m;
m = drawBand(ga, xA, aBlackLo, aBlackBandH, aBlackHi, aBlackBandH, '#000', .2, 'clip-a');


m = drawBand(ga, xA, aRedLo, aRedLoH, aRedHi, aRedHiH, '#ff0000', .2, 'clip-a');


m = drawBand(ga, xA, aNavyLo, aNavyBandH, aNavyHi, aNavyBandH, '#00008b', .2, 'clip-a');


m = drawBand(ga, xA, aBlueLo, aBlueLoH, aBlueHi, aBlueHiH, '#4682f5', .2, 'clip-a');


m = drawBand(ga, xA, aOrangeLo, aOrangeBandH, aOrangeHi, aOrangeBandH, '#ffa500', .2, 'clip-a');


m = drawLine(ga, xA, aBlackZe, aBlackH, '#000', 5, null, 'clip-a');


m = drawLine(ga, xA, aRedZe, aRedH, '#ff0000', 2.5, null, 'clip-a');


m = drawLine(ga, xA, aNavyZe, aNavyH, '#00008b', 2.5, null, 'clip-a');


m = drawLine(ga, xA, aBlueZe, aBlueH, '#4682f5', 2.5, null, 'clip-a');


m = drawLine(ga, xA, aOrangeZe, aOrangeH, '#ffa500', 2.5, null, 'clip-a');


drawFrame(ga, 98.7, 393.4);
drawAltTicks(ga, 98.7, true);
drawXTicks(ga, xA, aTicks, 23, 843);

/* ---------- panel (b) ---------- */
const gb = document.getElementById('panel-b-marks');
drawGrid(gb, xB, bTicks, 445, 739.6, '#b4b4b4');
drawIso(gb, 445, 739.6, 710);
m = drawBand(gb, xEDR, bEdrLo, bEdrLoH, bEdrHi, bEdrHiH, '#800080', .2, 'clip-b');


m = drawBand(gb, xB, bBlackLo, bBlackH, bBlackHi, bBlackH, '#000', .2, 'clip-b');


m = drawBand(gb, xB, bRedLo, bRedLoH, bRedHi, bRedHiH, '#ff0000', .2, 'clip-b');


m = drawBand(gb, xB, bNavyLo, bNavyBandH, bNavyHi, bNavyBandH, '#00008b', .2, 'clip-b');


m = drawBand(gb, xB, bBlueLo, bBlueLoH, bBlueHi, bBlueHiH, '#4682f5', .2, 'clip-b');


m = drawBand(gb, xB, bOrangeLo, bOrangeBandH, bOrangeHi, bOrangeBandH, '#ffa500', .25, 'clip-b');


m = drawLine(gb, xB, bBlackV, bBlackH, '#000', 5, null, 'clip-b');


m = drawLine(gb, xB, bRedV, bRedH, '#ff0000', 2.5, null, 'clip-b');


m = drawLine(gb, xB, bNavyV, bNavyH, '#00008b', 2.5, null, 'clip-b');


m = drawLine(gb, xB, bBlueV, bBlueH, '#4682f5', 2.5, null, 'clip-b');


m = drawLine(gb, xB, bOrangeV, bOrangeH, '#e68a00', 2.5, null, 'clip-b');


m = drawLine(gb, xEDR, bEdrLog, bEdrH, '#800080', 2.5, null, 'clip-b');


edrLines.forEach(function (v) {
  const l = make('line', gb, { x1: xEDR(v), x2: xEDR(v), y1: 102.3, y2: 813.7, stroke: '#800080', 'stroke-width': 1.8, 'stroke-dasharray': '6 3.5' });
  
  
});
drawFrame(gb, 445, 739.6, '#800080');
drawAltTicks(gb, 445, false);
drawXTicks(gb, xB, bTicks, 23, 843);
edrMajor.forEach(function (v, i) {
  const tk = make('line', gb, { x1: xEDR(v), x2: xEDR(v), y1: 96.8, y2: 102.3, stroke: '#800080', 'stroke-width': 2 });
  
  
  const t = make('text', gb, { x: xEDR(v), y: 86, 'text-anchor': 'middle', 'font-size': 23, fill: '#800080' });
  
  
  const base = make('tspan', t, {});
  base.textContent = '10';
  const sup = make('tspan', t, { dy: -9, 'font-size': 16 });
  sup.textContent = edrLabels[i];
  [2, 3, 4, 5, 6, 7, 8, 9].forEach(function (k) {
    const px = xEDR(v + Math.log10(k));
    if (px < 739.6) {
      const mt = make('line', gb, { x1: px, x2: px, y1: 99, y2: 102.3, stroke: '#800080', 'stroke-width': 1.2 });
      
      
    }
  });
});

/* ---------- panel (c) ---------- */
const gc = document.getElementById('panel-c-marks');
drawGrid(gc, xC, cTicks, 791.4, 1086.5, '#b4b4b4');
drawIso(gc, 791.4, 1086.5, 1053.5);
m = drawBand(gc, xC, cXLo, cXLoH, cXHi, cXHiH, '#000', .2, 'clip-c');


m = drawBand(gc, xC, cWLo, cWBandH, cWHi, cWBandH, 'url(#hatch)', 1, 'clip-c', '#9a9a9a');


m = drawBand(gc, xDFR, cDfrLo, cDfrLoH, cDfrHi, cDfrHiH, '#800080', .2, 'clip-c');


m = drawLine(gc, xC, cXZe, cXH, '#000', 4.5, null, 'clip-c');


m = drawLine(gc, xC, cWZe, cWH, '#000', 4.5, '13 6', 'clip-c');


m = drawLine(gc, xDFR, cDfrDb, cDfrH, '#800080', 4.5, '13 5 3 5', 'clip-c');


drawAltTicks(gc, 791.4, false);
drawXTicks(gc, xC, cTicks, 23, 843);
const gct = document.getElementById('panel-c-top');
dfrTicks.forEach(function (v) {
  const l = make('line', gct, { x1: xDFR(v), x2: xDFR(v), y1: 102.3, y2: 813.7, stroke: '#800080', 'stroke-width': 1.8, 'stroke-dasharray': '6 3.5' });
  
  
  const tk = make('line', gct, { x1: xDFR(v), x2: xDFR(v), y1: 96.8, y2: 102.3, stroke: '#800080', 'stroke-width': 2 });
  
  
  const t = make('text', gct, { x: xDFR(v), y: 86, 'text-anchor': 'middle', 'font-size': 23, fill: '#800080' });
  t.textContent = String(v);
  
  
});
drawFrame(gct, 791.4, 1086.5, '#800080');

/* ---------- panel (d) ---------- */
const gd = document.getElementById('panel-d-marks');
drawGrid(gd, xD, dTicks, 1138.3, 1285, '#b4b4b4');
drawIso(gd, 1138.3, 1285, 1260);
m = drawBand(gd, xD, dBandLo, dBandH, dBandHi, dBandH, '#800080', .2, 'clip-d');


m = drawLine(gd, xD, dPeakN, dPeakH, '#800080', 4, null, 'clip-d');


drawFrame(gd, 1138.3, 1285);
drawAltTicks(gd, 1138.3, false);
drawXTicks(gd, xD, dTicks, 23, 843);

/* ---------- panel (e) ---------- */
const ge = document.getElementById('panel-e-marks');
const defs = document.querySelector('#chart defs');
const bgGrad = make('linearGradient', defs, { id: 'spec-bg', gradientUnits: 'userSpaceOnUse', x1: 0, x2: 0, y1: yAlt(bgAlt[0]), y2: yAlt(bgAlt[bgAlt.length - 1]) });
bgAlt.forEach(function (h, i) {
  make('stop', bgGrad, { offset: (yAlt(h) - yAlt(bgAlt[0])) / (yAlt(bgAlt[bgAlt.length - 1]) - yAlt(bgAlt[0])), 'stop-color': bgGray[i] });
});
m = make('rect', ge, { x: xE(-3.36), y: yAlt(3.985), width: xE(3) - xE(-3.36), height: yAlt(3.52) - yAlt(3.985), fill: bgGray[0] });


m = make('rect', ge, { x: xE(-5), y: yAlt(3.49), width: xE(3) - xE(-5), height: yAlt(1.012) - yAlt(3.49), fill: 'url(#spec-bg)' });


m = make('rect', ge, { x: xE(-3.36), y: yAlt(3.985), width: xE(3) - xE(-3.36), height: yAlt(3.52) - yAlt(3.985), filter: 'url(#grain)', opacity: .2 });


m = make('rect', ge, { x: xE(-5), y: yAlt(3.49), width: xE(3) - xE(-5), height: yAlt(1.012) - yAlt(3.49), filter: 'url(#grain)', opacity: .2 });


const halo = drawBand(ge, xE, specL, specH, specR, specH, '#ffffff', 1, 'clip-e', '#cfcfcf');
halo.setAttribute('stroke-width', 5);
halo.setAttribute('stroke-opacity', 1);
halo.setAttribute('paint-order', 'stroke');
halo.setAttribute('filter', 'url(#soft)');


m = drawRibbon(ge, xE, holeH, holeL, holeR, '#bbbbbb', 'clip-e', 'soft');


m = drawRibbon(ge, xE, pinkH, pinkL, pinkR, '#fcdccd', 'clip-e', 'soft');


m = drawRibbon(ge, xE, f3H, f3L, f3R, '#f2a78e', 'clip-e', 'soft');


m = drawRibbon(ge, xE, dlH, dlL, dlR, '#f4ad95', 'clip-e', 'soft');


m = drawRibbon(ge, xE, sqBandH, sqBandL, sqBandR, '#ec967d', 'clip-e', 'soft');


m = drawRibbon(ge, xE, blobMidH, blobMidL, blobMidR, '#ee9c83', 'clip-e', 'soft');


m = drawRibbon(ge, xE, blobUpH, blobUpL, blobUpR, '#e28670', 'clip-e', 'soft');


m = drawRibbon(ge, xE, blobLowH, blobLowL, blobLowR, '#d9705f', 'clip-e', 'soft');


specTicks.forEach(function (v) {
  const g = make('line', ge, { x1: xE(v), x2: xE(v), y1: 102.3, y2: 813.7, stroke: '#a8a8a8', 'stroke-width': 1.5 });
  
  
});
altTicks.forEach(function (h) {
  const g = make('line', ge, { x1: 1345.2, x2: 1665.9, y1: yAlt(h), y2: yAlt(h), stroke: h === 3.5 ? '#ffffff' : '#a8a8a8', 'stroke-width': h === 3.5 ? 3 : 1.5 });
  
  
});
drawIsoSpec(ge, 1345.2, 1665.9, 1636);
triH.forEach(function (h, i) {
  const x = xE(triV[i]);
  const y = yAlt(h);
  const t = make('path', ge, { d: 'M' + (x - 4.5) + ',' + (y - 4) + 'L' + (x + 4.5) + ',' + (y - 4) + 'L' + x + ',' + (y + 4.5) + 'Z', fill: '#000', 'clip-path': 'url(#clip-e)' });
  
  
});
crossH.forEach(function (h, i) {
  const x = xE(crossV[i]);
  const y = yAlt(h);
  const t = make('path', ge, { d: 'M' + (x - 4) + ',' + (y - 4) + 'L' + (x + 4) + ',' + (y + 4) + 'M' + (x - 4) + ',' + (y + 4) + 'L' + (x + 4) + ',' + (y - 4), stroke: '#ff0000', 'stroke-width': 2.6, fill: 'none' });
  
  
});
squareH.forEach(function (h, i) {
  const x = xE(squareV[i]);
  const y = yAlt(h);
  const t = make('rect', ge, { x: x - 3.5, y: y - 3.5, width: 7, height: 7, fill: '#4682f5', stroke: '#000', 'stroke-width': 1.4 });
  
  
});
dotH.forEach(function (h, i) {
  const t = make('circle', ge, { cx: xE(dotV[i]), cy: yAlt(h), r: 1.7, fill: '#00008b' });
  
  
});
circleH.forEach(function (h, i) {
  const t = make('circle', ge, { cx: xE(circleV[i]), cy: yAlt(h), r: 2.6, fill: '#ffc000', stroke: '#000', 'stroke-width': 1.2 });
  
  
});
drawFrame(ge, 1345.2, 1665.9);
drawAltTicks(ge, 1345.2, false);
drawXTicks(ge, xE, specTicks, 20.5, 840);

/* ---------- panel (f) ---------- */
const gf = document.getElementById('panel-f-marks');
m = make('rect', gf, { x: xF(-3.36), y: yAlt(3.985), width: xF(3) - xF(-3.36), height: yAlt(3.52) - yAlt(3.985), fill: '#d3d3d3' });


m = make('rect', gf, { x: xF(-5), y: yAlt(3.49), width: xF(3) - xF(-5), height: yAlt(1.012) - yAlt(3.49), fill: '#d3d3d3' });


m = drawRibbon(gf, xF, fWhiteH, fWhiteL, fWhiteR, '#ffffff', 'clip-f', 'softer');


m = drawRibbon(gf, xF, streamAH, streamAL, streamAR, '#6610a6', 'clip-f', 'softer');


m = drawRibbon(gf, xF, coreUpH, coreUpL, coreUpR, '#3f0c9c', 'clip-f', 'soft');


m = drawRibbon(gf, xF, coreLowH, coreLowL, coreLowR, '#32109a', 'clip-f', 'soft');


m = drawRibbon(gf, xF, streamBH, streamBL, streamBR, '#3a0e9c', 'clip-f', 'softer');


m = drawRibbon(gf, xF, streamCH, streamCL, streamCR, '#6f12a6', 'clip-f', 'softer');


m = drawRibbon(gf, xF, orangeH, orangeL, orangeR, '#c0508a', 'clip-f', 'softer');


m = drawRibbon(gf, xF, orangeInnerH, orangeInnerL, orangeInnerR, '#dc6756', 'clip-f', 'soft');


m = drawRibbon(gf, xF, orangeCoreH, orangeCoreL, orangeCoreR, '#e87844', 'clip-f', 'soft');


m = drawRibbon(gf, xF, violetStripH, violetStripL, violetStripR, '#7b1fa2', 'clip-f', 'soft');


speckH.forEach(function (h, i) {
  const s = make('rect', gf, { x: xF(speckV[i]) - 1, y: yAlt(h) - 5, width: 2, height: 10, fill: '#7a3a9e' });
  
  
});
specTicks.forEach(function (v) {
  const g = make('line', gf, { x1: xF(v), x2: xF(v), y1: 102.3, y2: 813.7, stroke: '#a8a8a8', 'stroke-width': 1.5 });
  
  
});
altTicks.forEach(function (h) {
  const g = make('line', gf, { x1: 1728.3, x2: 2048, y1: yAlt(h), y2: yAlt(h), stroke: h === 3.5 ? '#ffffff' : '#a8a8a8', 'stroke-width': h === 3.5 ? 3 : 1.5 });
  
  
});
drawIsoSpec(gf, 1728.3, 2048, 2018);
drawFrame(gf, 1728.3, 2048);
drawAltTicks(gf, 1728.3, false);
drawXTicks(gf, xF, specTicks, 20.5, 840);

/* ---------- colorbars ---------- */
const cbe = document.getElementById('colorbar-e');
cbZeTicks.forEach(function (v) {
  const tk = make('line', cbe, { x1: xCbZe(v), x2: xCbZe(v), y1: 64, y2: 69, stroke: '#111', 'stroke-width': 1.6 });
  
  
  const t = make('text', cbe, { x: xCbZe(v), y: 55, 'text-anchor': 'middle', 'font-size': 20.3, fill: '#000' });
  t.textContent = String(v).replace('-', '\u2212');
  
  
});
const cbf = document.getElementById('colorbar-f');
cbLdrTicks.forEach(function (v) {
  const tk = make('line', cbf, { x1: xCbLdr(v), x2: xCbLdr(v), y1: 64, y2: 69, stroke: '#111', 'stroke-width': 1.6 });
  
  
  const t = make('text', cbf, { x: xCbLdr(v), y: 55, 'text-anchor': 'middle', 'font-size': 20.3, fill: '#000' });
  t.textContent = String(v).replace('-', '\u2212');
  
  
});
</script>
</svg>
</body>
</html>
